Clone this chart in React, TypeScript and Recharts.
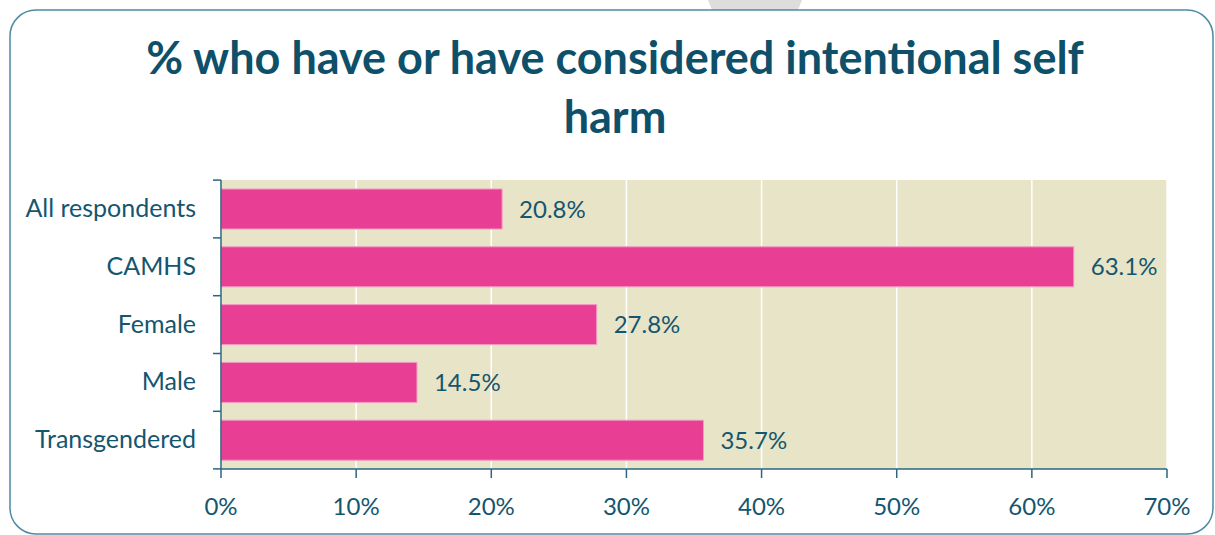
import React from "react";
import { BarChart, Bar, XAxis, YAxis, CartesianGrid, LabelList } from "recharts";

const categories = ["All respondents", "CAMHS", "Female", "Male", "Transgendered"];
const values = [20.8, 63.1, 27.8, 14.5, 35.7];
const xTicks = [0, 10, 20, 30, 40, 50, 60, 70];
const titleLines = ["% who have or have considered intentional self", "harm"];

const data = categories.map((c, i) => ({ category: c, value: values[i] }));

const TEXT = "#14566F";
const AXIS = "#2A6680";
const FONT = "Lato, sans-serif";
const FS = 24;

const YTick = (props: any) => {
  const { x, y, payload, index, visibleTicksCount } = props;
  const half = 288 / categories.length / 2;
  const isLast = index === (visibleTicksCount ?? categories.length) - 1;
  return (
    <g>
      <line x1={x} x2={x + 8} y1={y - half} y2={y - half} stroke={AXIS} strokeWidth={1.5} />
      {isLast && <line x1={x} x2={x + 8} y1={y + half} y2={y + half} stroke={AXIS} strokeWidth={1.5} />}
      <text x={x - 17} y={y} dy={8} textAnchor="end" fill={TEXT} fontSize={25} fontFamily={FONT}>
        {payload.value}
      </text>
    </g>
  );
};

export default function App() {
  return (
    <div style={{ position: "absolute", left: 0, top: 0, width: 1215, height: 535, background: "#fff", overflow: "hidden" }}>
      <svg width={1215} height={535} style={{ position: "absolute", left: 0, top: 0 }}>
        <polygon points="700,-20 712,10 798,10 810,-20" fill="#DDDDDD" />
        <rect x={10} y={10} width={1203} height={524} rx={26} ry={26} fill="none" stroke="#4E8BA2" strokeWidth={1.5} />
      </svg>
      <div
        style={{
          position: "absolute",
          left: 0,
          top: 28,
          width: 1230,
          textAlign: "center",
          fontFamily: "Lato, sans-serif",
          fontWeight: 700,
          fontSize: 45,
          lineHeight: "59px",
          color: "#0E5069",
          whiteSpace: "nowrap",
        }}
      >
        {titleLines.map((t) => (
          <div key={t}>{t}</div>
        ))}
      </div>
      <div style={{ position: "absolute", left: 0, top: 0 }}>
        <BarChart
          width={1215}
          height={535}
          data={data}
          layout="vertical"
          margin={{ top: 180, right: 48, bottom: 0, left: 0 }}
          barSize={40}
        >
          <CartesianGrid
            horizontal={false}
            vertical={true}
            stroke="#FFFFFF"
            strokeWidth={1.5}
            fill="#E8E4C7"
            fillOpacity={1}
          />
          <XAxis
            type="number"
            domain={[0, 70]}
            ticks={xTicks}
            tickFormatter={(v: number) => `${v}%`}
            height={66}
            axisLine={{ stroke: AXIS, strokeWidth: 1.5 }}
            tickLine={{ stroke: AXIS, strokeWidth: 1.5 }}
            tickSize={9}
            tick={{ fill: TEXT, fontSize: FS, fontFamily: FONT, dy: 18 }}
            interval={0}
          />
          <YAxis
            type="category"
            dataKey="category"
            width={221}
            axisLine={{ stroke: AXIS, strokeWidth: 1.5 }}
            tickLine={false}
            tick={<YTick />}
            interval={0}
          />
          <Bar dataKey="value" fill="#E83E93" stroke="#F29AC3" strokeWidth={1} isAnimationActive={false}>
            <LabelList
              dataKey="value"
              position="right"
              offset={17}
              formatter={(v: number) => `${v.toFixed(1)}%`}
              fill={TEXT}
              fontSize={FS}
              fontFamily={FONT}
            />
          </Bar>
        </BarChart>
      </div>
    </div>
  );
}
